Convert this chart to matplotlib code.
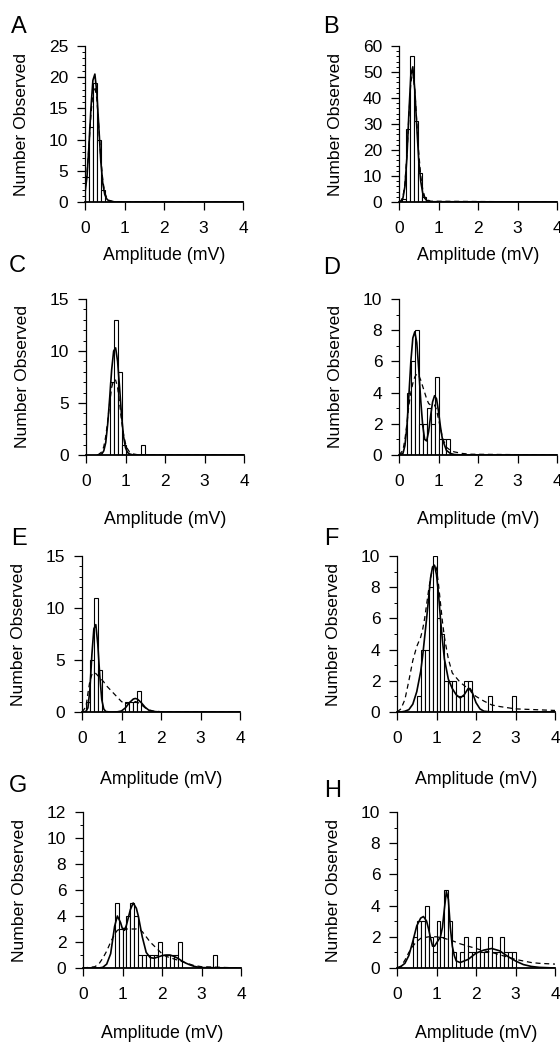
import matplotlib

matplotlib.use('Agg')
import matplotlib.pyplot as plt
from matplotlib.ticker import MultipleLocator

plt.rcParams['font.family'] = ['Liberation Sans', 'DejaVu Sans']

# ---- data (amplitude in mV, counts) ----
a_left = [0.0, 0.1, 0.2, 0.3, 0.4]
a_count = [4, 12, 19, 10, 2]
a_x = [0, 0.05, 0.1, 0.15, 0.2, 0.25, 0.3, 0.35, 0.4, 0.45, 0.5, 0.55, 0.6, 0.7, 0.8, 4.0]
a_solid = [1.5, 4, 9, 15, 19.5, 20.5, 17.5, 12, 6.5, 3, 1.2, 0.5, 0.2, 0.05, 0, 0]
a_dash = [2, 4.5, 9, 14, 17.5, 18.5, 16.5, 12, 7, 3.5, 1.5, 0.7, 0.3, 0.1, 0.05, 0]

b_left = [0.08, 0.18, 0.28, 0.38, 0.48, 0.58]
b_count = [1, 28, 56, 31, 11, 2]
b_x = [0, 0.05, 0.1, 0.15, 0.2, 0.25, 0.3, 0.35, 0.4, 0.45, 0.5, 0.55, 0.6, 0.65, 0.7, 0.8, 4.0]
b_solid = [0, 0.3, 1.5, 6, 17, 34, 49, 52, 43, 29, 16, 8, 3.5, 1.5, 0.6, 0.1, 0]
b_dash = [0, 0.5, 2, 7, 18, 33, 46, 50, 43, 31, 19, 10, 5, 2, 1, 0.3, 0]

c_left = [0.6, 0.7, 0.8, 0.9, 1.4]
c_count = [7, 13, 8, 1, 1]
c_x = [0.3, 0.4, 0.45, 0.5, 0.55, 0.6, 0.65, 0.7, 0.75, 0.8, 0.85, 0.9, 0.95, 1.0,
       1.05, 1.1, 1.2, 1.3, 4.0]
c_solid = [0, 0.1, 0.4, 1.2, 3, 5.5, 8.2, 10, 10.3, 9, 6.5, 3.8, 1.8, 0.7,
           0.25, 0.1, 0, 0, 0]
c_dash = [0, 0.3, 0.8, 1.8, 3.3, 5.0, 6.5, 7.2, 7.2, 6.5, 5.0, 3.3, 2.0, 1.1,
          0.6, 0.3, 0.1, 0.03, 0]

d_left = [0.2, 0.3, 0.4, 0.5, 0.6, 0.7, 0.8, 0.9, 1.0, 1.1, 1.2]
d_count = [4, 6, 8, 2, 2, 3, 2, 5, 1, 1, 1]
d_x = [0, 0.1, 0.15, 0.2, 0.25, 0.3, 0.35, 0.4, 0.45, 0.5, 0.55, 0.6, 0.65, 0.7,
       0.75, 0.8, 0.85, 0.9, 0.95, 1.0, 1.05, 1.1, 1.2, 1.3, 1.4, 1.6, 1.8, 4.0]
d_solid = [0, 0.1, 0.6, 1.8, 3.8, 6.0, 7.5, 7.9, 7.2, 5.5, 3.5, 1.9, 1.0, 0.9,
           1.5, 2.5, 3.4, 3.8, 3.6, 2.8, 1.8, 1.0, 0.3, 0.1, 0.03, 0, 0, 0]
d_dash = [0, 0.3, 1.0, 2.0, 3.2, 4.0, 4.6, 5.0, 5.2, 5.1, 4.8, 4.4, 4.0, 3.6,
          3.3, 3.2, 3.2, 3.2, 2.9, 2.3, 1.7, 1.1, 0.5, 0.3, 0.2, 0.1, 0.05, 0]

e_left = [0.1, 0.2, 0.3, 0.4, 1.1, 1.2, 1.3, 1.4]
e_count = [1, 5, 11, 4, 1, 1, 1, 2]
e_x = [0, 0.1, 0.15, 0.2, 0.25, 0.3, 0.35, 0.4, 0.45, 0.5, 0.55, 0.6, 0.7, 0.8,
       0.9, 1.0, 1.1, 1.2, 1.3, 1.35, 1.4, 1.5, 1.6, 1.7, 1.8, 2.0, 4.0]
e_solid = [0, 0.05, 0.4, 2.2, 5.5, 8.0, 8.4, 6.5, 3.5, 1.2, 0.3, 0.05, 0, 0,
           0.02, 0.1, 0.4, 0.9, 1.25, 1.3, 1.25, 0.9, 0.45, 0.15, 0.05, 0, 0]
e_dash = [0, 0.5, 1.8, 3.0, 3.6, 3.8, 3.7, 3.5, 3.3, 3.1, 2.9, 2.6, 2.2, 1.8,
          1.4, 1.0, 0.8, 0.9, 1.0, 1.0, 0.95, 0.7, 0.4, 0.2, 0.1, 0.03, 0]

f_left = [0.5, 0.6, 0.7, 0.8, 0.9, 1.0, 1.1, 1.2, 1.3, 1.4, 1.5, 1.6, 1.7, 1.8, 2.3, 2.9]
f_count = [1, 4, 4, 8, 10, 6, 5, 2, 2, 2, 1, 1, 2, 2, 1, 1]
f_x = [0, 0.1, 0.2, 0.3, 0.4, 0.5, 0.6, 0.65, 0.7, 0.75, 0.8, 0.85, 0.9, 0.95,
       1.0, 1.05, 1.1, 1.15, 1.2, 1.3, 1.4, 1.5, 1.6, 1.7, 1.8, 1.85, 1.9, 2.0,
       2.1, 2.2, 2.4, 2.6, 3.0, 4.0]
f_solid = [0, 0, 0.05, 0.15, 0.5, 1.3, 2.6, 3.6, 4.8, 6.0, 7.3, 8.6, 9.3, 9.4,
           8.8, 7.6, 6.0, 4.6, 3.4, 2.1, 1.5, 1.1, 0.9, 1.1, 1.5, 1.5, 1.3, 0.6,
           0.2, 0.05, 0, 0, 0, 0]
f_dash = [0, 0.2, 0.8, 2.0, 3.3, 4.2, 4.8, 5.3, 6.0, 6.9, 7.8, 8.6, 9.2, 9.5,
          9.2, 8.2, 7.0, 5.8, 4.8, 3.4, 2.5, 2.2, 1.9, 1.7, 1.5, 1.4, 1.2, 1.0,
          0.85, 0.7, 0.45, 0.35, 0.2, 0.1]

g_left = [0.8, 0.9, 1.0, 1.1, 1.2, 1.3, 1.4, 1.5, 1.6, 1.7, 1.8, 1.9, 2.0, 2.1,
          2.2, 2.3, 2.4, 3.3]
g_count = [5, 3, 3, 4, 5, 4, 1, 1, 1, 1, 1, 2, 1, 1, 1, 1, 2, 1]
g_x = [0, 0.3, 0.4, 0.5, 0.6, 0.7, 0.8, 0.87, 0.95, 1.0, 1.05, 1.1, 1.15, 1.2,
       1.27, 1.35, 1.4, 1.45, 1.5, 1.6, 1.7, 1.8, 1.9, 2.0, 2.1, 2.2, 2.3, 2.4,
       2.5, 2.6, 2.7, 2.8, 2.9, 3.0, 4.0]
g_solid = [0, 0, 0, 0.05, 0.3, 1.1, 3.2, 4.0, 3.5, 3.0, 2.9, 3.3, 3.9, 4.5,
           5.0, 4.6, 4.0, 3.2, 2.4, 1.2, 0.8, 0.75, 0.85, 0.95, 1.0, 1.0, 0.9,
           0.75, 0.55, 0.38, 0.25, 0.14, 0.07, 0.03, 0]
g_dash = [0, 0.1, 0.3, 0.75, 1.3, 2.0, 2.6, 2.9, 3.0, 3.05, 3.05, 3.0, 3.0, 3.0,
          3.0, 3.0, 2.95, 2.9, 2.8, 2.4, 2.0, 1.7, 1.4, 1.1, 0.9, 0.8, 0.7, 0.6,
          0.5, 0.4, 0.3, 0.2, 0.15, 0.1, 0]

h_left = [0.4, 0.5, 0.6, 0.7, 0.8, 0.9, 1.0, 1.1, 1.2, 1.3, 1.4, 1.6, 1.7, 1.8,
          1.9, 2.0, 2.1, 2.2, 2.3, 2.4, 2.5, 2.6, 2.7, 2.8, 2.9]
h_count = [2, 3, 3, 4, 2, 1, 3, 2, 5, 3, 1, 1, 2, 1, 1, 2, 1, 1, 2, 1, 1, 2, 1, 1, 1]
h_x = [0, 0.1, 0.2, 0.3, 0.4, 0.5, 0.6, 0.67, 0.75, 0.8, 0.85, 0.9, 0.95, 1.0,
       1.05, 1.1, 1.15, 1.2, 1.25, 1.3, 1.35, 1.4, 1.45, 1.5, 1.6, 1.8, 2.0,
       2.2, 2.4, 2.6, 2.8, 3.0, 3.2, 3.4, 3.6, 4.0]
h_solid = [0, 0.1, 0.3, 0.8, 1.7, 2.7, 3.2, 3.3, 3.0, 2.5, 1.9, 1.4, 1.4, 1.6,
           1.8, 2.0, 2.6, 3.8, 4.9, 4.4, 2.6, 1.4, 0.8, 0.45, 0.35, 0.55, 0.95,
           1.15, 1.25, 1.1, 0.75, 0.45, 0.22, 0.1, 0.04, 0]
h_dash_x = [0, 0.1, 0.2, 0.3, 0.4, 0.5, 0.6, 0.8, 1.0, 1.2, 1.4, 1.6, 1.8, 2.0,
            2.2, 2.4, 2.6, 2.8, 3.0, 3.2, 3.4, 3.6, 4.0]
h_dash = [0, 0.1, 0.5, 1.0, 1.4, 1.7, 1.9, 2.0, 2.0, 1.9, 1.75, 1.55, 1.4, 1.25,
          1.1, 1.0, 0.85, 0.7, 0.55, 0.45, 0.35, 0.3, 0.25]

letters = ['A', 'B', 'C', 'D', 'E', 'F', 'G', 'H']
y_max = [25, 60, 15, 10, 15, 10, 12, 10]
y_major = [5, 10, 5, 2, 5, 2, 2, 2]
y_minor = [1, 2, 1, 1, 1, 1, 1, 1]

panels = [
    (a_left, a_count, a_x, a_solid, a_x, a_dash),
    (b_left, b_count, b_x, b_solid, b_x, b_dash),
    (c_left, c_count, c_x, c_solid, c_x, c_dash),
    (d_left, d_count, d_x, d_solid, d_x, d_dash),
    (e_left, e_count, e_x, e_solid, e_x, e_dash),
    (f_left, f_count, f_x, f_solid, f_x, f_dash),
    (g_left, g_count, g_x, g_solid, g_x, g_dash),
    (h_left, h_count, h_x, h_solid, h_dash_x, h_dash),
]

# ---- layout (pixels in a 560x1044 canvas) ----
W, H = 560, 1044
ax_left = [85, 399, 86, 399, 82, 397, 83, 397]
ax_top = [46, 46, 299, 299, 556, 556, 812, 812]
ax_w, ax_h = 158, 156
letter_xy = [(11, 33), (323, 33), (9, 272), (323, 274), (11, 545), (324, 545), (9, 792), (324, 797)]
xlabel_y = [-0.29, -0.29, -0.36, -0.36, -0.38, -0.38, -0.365, -0.365]

fig = plt.figure(figsize=(W / 100, H / 100), dpi=100)

for i, (left, count, sx, solid, dx, dash) in enumerate(panels):
    ax = fig.add_axes([ax_left[i] / W, 1 - (ax_top[i] + ax_h) / H, ax_w / W, ax_h / H])
    ax.bar(left, count, width=0.1, align='edge', facecolor='white',
           edgecolor='black', linewidth=0.8, zorder=2)
    ax.plot(sx, solid, '-', color='black', linewidth=1.2, zorder=3)
    ax.plot(dx, dash, '--', color='black', linewidth=0.9, dashes=(4, 3), zorder=3)

    ax.set_xlim(0, 4)
    ax.set_ylim(0, y_max[i])
    ax.spines['top'].set_visible(False)
    ax.spines['right'].set_visible(False)
    ax.spines['left'].set_linewidth(0.9)
    ax.spines['bottom'].set_linewidth(1.3)
    ax.set_xticks([0, 1, 2, 3, 4])
    ax.yaxis.set_major_locator(MultipleLocator(y_major[i]))
    ax.yaxis.set_minor_locator(MultipleLocator(y_minor[i]))
    ax.tick_params(axis='x', direction='out', length=6, width=0.9, pad=8, labelsize=12.5)
    ax.tick_params(axis='y', which='major', direction='out', length=6, width=0.9,
                   pad=6, labelsize=12.5)
    ax.tick_params(axis='y', which='minor', direction='out', length=2.5, width=0.7)

    ax.set_xlabel('Amplitude (mV)', fontsize=12.8)
    ax.xaxis.set_label_coords(0.5, xlabel_y[i])
    ax.set_ylabel('Number Observed', fontsize=12.6)
    ax.yaxis.set_label_coords(-0.355, 0.5)

    lx, ly = letter_xy[i]
    fig.text(lx / W, 1 - ly / H, letters[i], fontsize=17, ha='left', va='baseline')

plt.savefig('out.png', dpi=100)
